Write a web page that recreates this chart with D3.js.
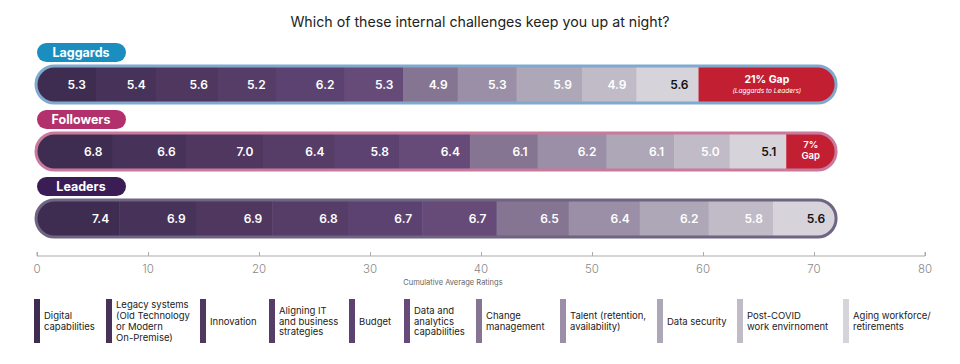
<!DOCTYPE html>
<html><head><meta charset="utf-8">
<script src="https://cdn.jsdelivr.net/npm/d3@7"></script>
<style>
body{margin:0;background:#fff;}
svg{display:block;font-family:Inter,"Open Sans",sans-serif;}
</style></head>
<body><svg id="chart" width="960" height="364"></svg>
<script>
const categories = ["Digital capabilities","Legacy systems (Old Technology or Modern On-Premise)","Innovation","Aligning IT and business strategies","Budget","Data and analytics capabilities","Change management","Talent (retention, availability)","Data security","Post-COVID work envirnoment","Aging workforce/ retirements"];
const legendLines = [["Digital","capabilities"],["Legacy systems","(Old Technology","or Modern","On-Premise)"],["Innovation"],["Aligning IT","and business","strategies"],["Budget"],["Data and","analytics","capabilities"],["Change","management"],["Talent (retention,","availability)"],["Data security"],["Post-COVID","work envirnoment"],["Aging workforce/","retirements"]];
const groups = ["Laggards","Followers","Leaders"];
const laggards = [5.3,5.4,5.6,5.2,6.2,5.3,4.9,5.3,5.9,4.9,5.6];
const followers = [6.8,6.6,7.0,6.4,5.8,6.4,6.1,6.2,6.1,5.0,5.1];
const leaders = [7.4,6.9,6.9,6.8,6.7,6.7,6.5,6.4,6.2,5.8,5.6];
const gapLabels = [["21% Gap","(Laggards to Leaders)"],["7%","Gap"],null];
const xTicks = [0,10,20,30,40,50,60,70,80];

const colors = ["#3e2d50","#47325a","#4f3760","#563d68","#5c4270","#664b79","#857592","#9a8fa6","#aea7b7","#c0bbc7","#d6d3da"];
const pillColors = ["#1b8ec0","#b2306c","#3a1d54"];
const borderColors = ["#80a9cf","#c97a9c","#6f6482"];
const gapColor = "#c31f33";

const svg = d3.select("#chart");
const x = d3.scaleLinear().domain([0,80]).range([37,925]);
const bandTops = [66,133,200];
const bandH = 37;
const series = [laggards,followers,leaders];
const leaderTotal = d3.sum(leaders);

svg.append("text").attr("x",480).attr("y",27).attr("text-anchor","middle")
  .attr("font-size",14.2).attr("fill","#222").text("Which of these internal challenges keep you up at night?");

const defs = svg.append("defs");
series.forEach((vals,gi)=>{
  const y0 = bandTops[gi];
  const x0 = x(0)-1, x1 = x(leaderTotal)+1;
  defs.append("clipPath").attr("id","clip"+gi).append("rect")
    .attr("x",x0).attr("y",y0).attr("width",x1-x0).attr("height",bandH).attr("rx",bandH/2);
  const g = svg.append("g").attr("clip-path",`url(#clip${gi})`);
  let cum = 0;
  const segs = vals.map((v,i)=>{const s={v,i,start:cum,end:cum+v};cum+=v;return s;});
  g.append("rect").attr("x",x0).attr("y",y0).attr("width",x(0)-x0+1).attr("height",bandH).attr("fill",colors[0]);
  g.selectAll("rect.seg").data(segs).join("rect").attr("class","seg")
    .attr("x",d=>x(d.start)).attr("y",y0).attr("width",d=>x(d.end)-x(d.start)+0.5).attr("height",bandH)
    .attr("fill",d=>colors[d.i]);
  const total = cum;
  g.append("rect").attr("x",x(total)).attr("y",y0).attr("width",x1-x(total)+2).attr("height",bandH)
    .attr("fill", total < leaderTotal - 0.01 ? gapColor : colors[10]);
  svg.selectAll(null).data(segs).join("text")
    .attr("x",d=>x(d.end)-10).attr("y",y0+bandH/2+4.5).attr("text-anchor","end")
    .attr("font-size",12).attr("font-weight",600)
    .attr("fill",d=>d.i===10?"#111":"#fff").text(d=>d.v.toFixed(1));
  svg.append("rect").attr("x",x0).attr("y",y0).attr("width",x1-x0).attr("height",bandH).attr("rx",bandH/2)
    .attr("fill","none").attr("stroke",borderColors[gi]).attr("stroke-width",3);
  const gl = gapLabels[gi];
  if (gl) {
    const cx = (x(total)+x(leaderTotal))/2;
    if (gi===0) {
      svg.append("text").attr("x",cx).attr("y",y0+17).attr("text-anchor","middle").attr("font-size",10.5).attr("font-weight",700).attr("fill","#fff").text(gl[0]);
      svg.append("text").attr("x",cx).attr("y",y0+27).attr("text-anchor","middle").attr("font-size",6.5).attr("font-style","italic").attr("fill","#fff").text(gl[1]);
    } else {
      const t = svg.append("text").attr("text-anchor","middle").attr("font-size",9.5).attr("font-weight",600).attr("fill","#fff");
      t.append("tspan").attr("x",cx).attr("y",y0+15).text(gl[0]);
      t.append("tspan").attr("x",cx).attr("y",y0+26).text(gl[1]);
    }
  }
  const py = [43,110,177][gi];
  svg.append("rect").attr("x",37).attr("y",py).attr("width",89).attr("height",19).attr("rx",9.5).attr("fill",pillColors[gi]);
  svg.append("text").attr("x",81).attr("y",py+14).attr("text-anchor","middle").attr("font-size",12.5).attr("font-weight",700).attr("fill","#fff").text(groups[gi]);
});

// axis
const axisY = 256;
const axis = svg.append("g").attr("transform",`translate(0,${axisY})`)
  .call(d3.axisTop(x).tickValues(xTicks).tickSize(4).tickFormat(""));
axis.select(".domain").attr("stroke","#aaa").attr("d",`M${x(0)},-4V0H${x(80)}V-4`);
axis.selectAll(".tick line").attr("stroke","#aaa");
svg.selectAll("text.tl").data(xTicks).join("text").attr("class","tl")
  .attr("x",d=>x(d)).attr("y",axisY+17).attr("text-anchor","middle")
  .attr("font-size",11.5).attr("font-weight",300).attr("fill","#888").text(d=>d);
svg.append("text").attr("x",453).attr("y",axisY+29).attr("text-anchor","middle")
  .attr("font-size",7.5).attr("fill","#666").text("Cumulative Average Ratings");

// legend
const legX = [34,106,200,269,349,404,476,560,657,737,843];
const lg = svg.append("g");
categories.forEach((c,i)=>{
  lg.append("rect").attr("x",legX[i]).attr("y",299).attr("width",6).attr("height",44).attr("fill",colors[i]);
  const lines = legendLines[i];
  const lh = 10.8;
  const startY = 321 - (lines.length-1)*lh/2 + 3.5;
  const t = lg.append("text").attr("font-size",9.5).attr("fill","#222");
  lines.forEach((l,j)=>{
    t.append("tspan").attr("x",legX[i]+10).attr("y",startY+j*lh).text(l);
  });
});
</script></body></html>
